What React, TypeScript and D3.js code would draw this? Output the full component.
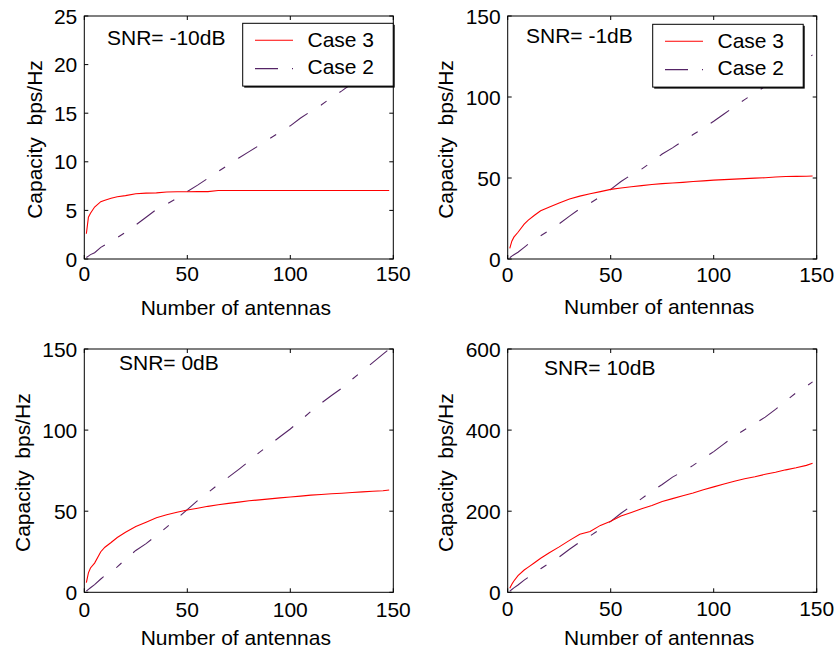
import React from "react";
import * as d3 from "d3";

// ---------- DATA ----------
const antennas = [1, 2, 3, 5, 8, 10, 13, 16, 20, 25, 30, 35, 40, 45, 50, 55, 60, 65, 70, 75, 80, 85, 90, 95, 100, 105, 110, 115, 120, 125, 130, 135, 140, 145, 148];

const snrLabels = ["SNR= -10dB", "SNR= -1dB", "SNR= 0dB", "SNR= 10dB"];
const seriesNames = ["Case 3", "Case 2"];

const case3_m10 = [2.6, 4.3, 4.7, 5.35, 5.9, 6.05, 6.25, 6.4, 6.52, 6.72, 6.78, 6.8, 6.9, 6.92, 6.92, 6.93, 6.93, 7.05, 7.05, 7.05, 7.05, 7.05, 7.05, 7.05, 7.05, 7.05, 7.05, 7.05, 7.05, 7.05, 7.05, 7.05, 7.05, 7.05, 7.05];
const case2_m10 = [0.15, 0.3, 0.45, 0.65, 1.2, 1.45, 1.85, 2.2, 2.75, 3.5, 4.3, 5.1, 5.65, 6.25, 6.95, 7.6, 8.3, 9.0, 9.7, 10.4, 11.05, 11.7, 12.4, 13.05, 13.7, 14.5, 15.2, 15.85, 16.6, 17.3, 18.05, 18.8, 19.4, 20.1, 20.5];

const case3_m1 = [6.5, 11, 13.5, 16.5, 21.5, 24, 27, 29.8, 32, 34.5, 37, 38.8, 40.3, 41.6, 43, 43.8, 44.6, 45.3, 46, 46.5, 46.9, 47.3, 47.8, 48.2, 48.7, 49, 49.3, 49.6, 49.9, 50.2, 50.6, 50.9, 51, 51.1, 51.2];
const case2_m1 = [0.8, 1.8, 2.6, 4.2, 7.2, 9.2, 11.8, 14.4, 17.5, 21.7, 26.5, 31, 34.5, 38.5, 43, 47.8, 52, 55.5, 60, 64.8, 68.6, 72.8, 76.8, 80.8, 85, 89.5, 94, 98.4, 102.5, 106.6, 110.8, 115, 119.2, 123.3, 126];

const case3_0 = [6, 12, 15, 18, 25, 27.8, 30.7, 33.8, 37, 40.5, 43.2, 46, 47.8, 49.3, 50.7, 51.8, 53, 54, 54.8, 55.6, 56.4, 57, 57.6, 58.2, 58.8, 59.3, 59.9, 60.3, 60.8, 61.1, 61.5, 61.9, 62.3, 62.6, 63.1];
const case2_0 = [0.8, 1.8, 2.8, 4.7, 8.2, 10.3, 12.8, 15.7, 20.3, 25.8, 30, 35, 40.2, 45.5, 51, 56.6, 61.5, 66.4, 71, 75.8, 80.8, 86.3, 91, 95.9, 100.7, 106, 111.5, 116.6, 121.3, 125.8, 131.3, 136.5, 141.6, 146.8, 150];

const case3_10 = [10, 20, 28, 41, 55, 62, 73, 84, 97, 112, 128, 143, 150, 165, 175, 188, 197, 206, 214, 224, 231, 238, 245, 253, 260, 267, 274, 280, 285, 291, 296, 302, 307, 313, 318];
const case2_10 = [3, 7, 11, 18, 30, 37, 48, 58, 71, 87, 106, 124, 139, 156, 175, 195, 213, 231, 249, 266, 284, 298, 313, 330, 347, 366, 385, 401, 416, 432, 451, 472, 492, 508, 519];

const xTicks = [0, 50, 100, 150];
const yTicks_m10 = [0, 5, 10, 15, 20, 25];
const yTicks_m1 = [0, 50, 100, 150];
const yTicks_0 = [0, 50, 100, 150];
const yTicks_10 = [0, 200, 400, 600];

// ---------- LAYOUT ----------
const W = 837;
const H = 654;
const FONT = "'Liberation Sans', Arial, Helvetica, sans-serif";
const FS = 21;
const RED = "#ff0000";
const PURPLE = "#552466";
const DASH = "22.5,15.5,7,15.5";

type Panel = {
  left: number; right: number; top: number; bottom: number;
  yMax: number; yTicks: number[]; c3: number[]; c2: number[];
  snr: string; snrX: number; snrY: number;
  yLabelX: number; xTickDy: number; xLabelY: number;
  legend?: { x: number; y: number };
};

const panels: Panel[] = [
  { left: 84.3, right: 393.3, top: 16, bottom: 259, yMax: 25, yTicks: yTicks_m10, c3: case3_m10, c2: case2_m10,
    snr: snrLabels[0], snrX: 107, snrY: 45, yLabelX: 41.7, xTickDy: 22, xLabelY: 315, legend: { x: 242.7, y: 23.3 } },
  { left: 507.7, right: 816.7, top: 16, bottom: 259, yMax: 150, yTicks: yTicks_m1, c3: case3_m1, c2: case2_m1,
    snr: snrLabels[1], snrX: 526, snrY: 43.3, yLabelX: 453.3, xTickDy: 23, xLabelY: 314, legend: { x: 652.7, y: 24.3 } },
  { left: 84.3, right: 393.3, top: 349, bottom: 592.3, yMax: 150, yTicks: yTicks_0, c3: case3_0, c2: case2_0,
    snr: snrLabels[2], snrX: 119, snrY: 370, yLabelX: 30, xTickDy: 25, xLabelY: 645 },
  { left: 507.7, right: 816.7, top: 349, bottom: 592.3, yMax: 600, yTicks: yTicks_10, c3: case3_10, c2: case2_10,
    snr: snrLabels[3], snrX: 544, snrY: 375, yLabelX: 453.3, xTickDy: 24, xLabelY: 645 },
];

function PanelView({ p, idx }: { p: Panel; idx: number }) {
  const x = d3.scaleLinear().domain([0, 150]).range([p.left, p.right]);
  const y = d3.scaleLinear().domain([0, p.yMax]).range([p.bottom, p.top]);
  const line = d3.line<[number, number]>().x((d) => x(d[0])).y((d) => y(d[1]));
  const d3pts = antennas.map((a, i) => [a, p.c3[i]] as [number, number]);
  const d2pts = antennas.map((a, i) => [a, p.c2[i]] as [number, number]);
  const tl = 4;
  const clipId = `clip${idx}`;
  const lg = p.legend;
  return (
    <g>
      <defs>
        <clipPath id={clipId}>
          <rect x={p.left} y={p.top} width={p.right - p.left} height={p.bottom - p.top} />
        </clipPath>
      </defs>
      <rect x={p.left} y={p.top} width={p.right - p.left} height={p.bottom - p.top} fill="#fff" />
      <g clipPath={`url(#${clipId})`}>
        <path d={line(d2pts) || ""} fill="none" stroke={PURPLE} strokeWidth={1.1} strokeDasharray={DASH} />
        <path d={line(d3pts) || ""} fill="none" stroke={RED} strokeWidth={1.1} />
      </g>
      {xTicks.map((t) => (
        <g key={"xt" + t}>
          <line x1={x(t)} x2={x(t)} y1={p.bottom} y2={p.bottom - tl} stroke="#000" />
          <line x1={x(t)} x2={x(t)} y1={p.top} y2={p.top + tl} stroke="#000" />
          <text x={x(t)} y={p.bottom + p.xTickDy} textAnchor="middle" fontSize={FS} fontFamily={FONT}>{t}</text>
        </g>
      ))}
      {p.yTicks.map((t) => (
        <g key={"yt" + t}>
          <line x1={p.left} x2={p.left + tl} y1={y(t)} y2={y(t)} stroke="#000" />
          <line x1={p.right} x2={p.right - tl} y1={y(t)} y2={y(t)} stroke="#000" />
          <text x={p.left - 7} y={y(t) + 7.5} textAnchor="end" fontSize={FS} fontFamily={FONT}>{t}</text>
        </g>
      ))}
      <rect x={p.left} y={p.top} width={p.right - p.left} height={p.bottom - p.top} fill="none" stroke="#000" strokeWidth={1} />
      <text x={p.snrX} y={p.snrY} fontSize={FS} fontFamily={FONT}>{p.snr}</text>
      <text x={(p.left + p.right) / 2 - 3} y={p.xLabelY} textAnchor="middle" fontSize={FS} fontFamily={FONT}>Number of antennas</text>
      <text transform={`translate(${p.yLabelX},${(p.top + p.bottom) / 2 + 2}) rotate(-90)`} textAnchor="middle" fontSize={FS} fontFamily={FONT} style={{ whiteSpace: "pre" }}>{"Capacity  bps/Hz"}</text>
      {lg && (
        <g>
          <rect x={lg.x + 1.5} y={lg.y + 1.5} width={150.5} height={62.8} fill="#000" />
          <rect x={lg.x} y={lg.y} width={150.5} height={62.8} fill="#fff" stroke="#000" strokeWidth={1} />
          <line x1={lg.x + 12.3} x2={lg.x + 50.3} y1={lg.y + 17} y2={lg.y + 17} stroke={RED} strokeWidth={1.1} />
          <text x={lg.x + 64.8} y={lg.y + 23.6} fontSize={FS} fontFamily={FONT}>{seriesNames[0]}</text>
          <line x1={lg.x + 12.3} x2={lg.x + 50.3} y1={lg.y + 45.3} y2={lg.y + 45.3} stroke={PURPLE} strokeWidth={1.1} strokeDasharray="23,14,1,14" />
          <text x={lg.x + 64.8} y={lg.y + 50.8} fontSize={FS} fontFamily={FONT}>{seriesNames[1]}</text>
        </g>
      )}
    </g>
  );
}

export default function App() {
  return (
    <svg width={W} height={H} style={{ position: "absolute", left: 0, top: 0, background: "#fff" }}>
      <rect x={0} y={0} width={W} height={H} fill="#fff" />
      {panels.map((p, i) => (
        <PanelView key={i} p={p} idx={i} />
      ))}
    </svg>
  );
}
